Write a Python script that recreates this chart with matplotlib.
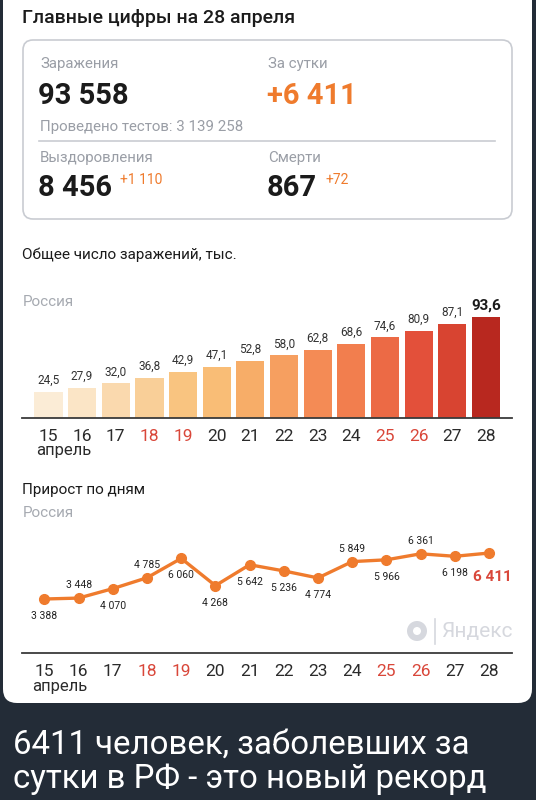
import matplotlib.pyplot as plt
from matplotlib.patches import FancyBboxPatch, Circle

# data
days = ['15', '16', '17', '18', '19', '20', '21', '22', '23', '24', '25', '26', '27', '28']
weekend = ['18', '19', '25', '26']
total_k = [24.5, 27.9, 32.0, 36.8, 42.9, 47.1, 52.8, 58.0, 62.8, 68.6, 74.6, 80.9, 87.1, 93.6]
daily = [3388, 3448, 4070, 4785, 6060, 4268, 5642, 5236, 4774, 5849, 5966, 6361, 6198, 6411]
daily_above = [False, True, False, True, False, False, False, False, False, True, False, True, False, False]
bar_colors = ['#fbecd6', '#fbe5c6', '#fad9ae', '#f9cf98', '#f9c480', '#f9bd76', '#f7ad68',
              '#f69f60', '#f48b55', '#f27e4e', '#ec6a45', '#e3503a', '#d84431', '#b8281f']

DARK = '#232c37'
ORANGE = '#ef7b2d'
RED = '#d9473a'
GRAY = '#9a9ea6'
TXT = '#1b1b1b'
FONT = ['Roboto', 'DejaVu Sans']

W, H = 536, 800
fig = plt.figure(figsize=(W / 100, H / 100), dpi=100, facecolor=DARK)

# background axes in pixel coordinates (y grows downwards)
bg = fig.add_axes([0, 0, 1, 1])
bg.set_xlim(0, W)
bg.set_ylim(H, 0)
bg.axis('off')
bg.set_facecolor(DARK)

card = FancyBboxPatch((3, -20), 529, 723, boxstyle='round,pad=0,rounding_size=14',
                      fc='white', ec='none')
bg.add_patch(card)
inner = FancyBboxPatch((23, 40), 489, 179, boxstyle='round,pad=0,rounding_size=10',
                       fc='white', ec='#c9ccd2', lw=1.2)
bg.add_patch(inner)
bg.plot([39, 495], [141, 141], color='#c9ccd2', lw=1.2)


def txt(x, y, s, size, color=TXT, weight='normal', ha='left', va='center'):
    bg.text(x, y, s, fontsize=size, color=color, fontweight=weight, ha=ha, va=va, family=FONT)


txt(22, 18, 'Главные цифры на 28 апреля', 14, weight='medium')
txt(40, 64, 'Заражения', 10.8, GRAY)
txt(268, 64, 'За сутки', 10.8, GRAY)
txt(38, 96, '93 558', 21, weight='bold')
txt(267, 96, '+6 411', 21, ORANGE, weight='bold')
txt(40, 127, 'Проведено тестов: 3 139 258', 10.8, GRAY)
txt(40, 158, 'Выздоровления', 10.8, GRAY)
txt(268, 158, 'Смерти', 10.8, GRAY)
txt(38, 188, '8 456', 21, weight='bold')
txt(120, 180, '+1 110', 10, ORANGE)
txt(325, 180, '+72', 10, ORANGE)
txt(267, 188, '867', 21, weight='bold')

txt(22, 255, 'Общее число заражений, тыс.', 11)
txt(23, 302, 'Россия', 11, '#a6aab1')
txt(22, 490, 'Прирост по дням', 11)
txt(23, 513, 'Россия', 11, '#a6aab1')
txt(36, 451, 'апрель', 12, '#2b2b2b')
txt(32, 687, 'апрель', 12, '#2b2b2b')

# Yandex watermark
bg.add_patch(Circle((417, 631), 10, fc='#d6d8de', ec='none'))
bg.add_patch(Circle((417, 631), 4, fc='white', ec='none'))
bg.plot([435, 435], [619, 644], color='#d6d8de', lw=1.2)
bg.text(441, 632, 'Яндекс', fontsize=15, color='#d6d8de', ha='left', va='center', family=FONT)

txt(13, 745, '6411 человек, заболевших за', 23.8, 'white')
txt(13, 779, 'сутки в РФ - это новый рекорд', 23.8, 'white')

x = list(range(len(days)))


def px_axes(left, top, right, bottom):
    return fig.add_axes([left / W, 1 - bottom / H, (right - left) / W, (bottom - top) / H])


def style_days(ax):
    ax.set_xticks(x)
    ax.set_xticklabels(days, fontsize=12.5, family=FONT)
    for lab, d in zip(ax.get_xticklabels(), days):
        lab.set_color(RED if d in weekend else '#2b2b2b')
    ax.tick_params(axis='x', length=0, pad=8)
    ax.set_yticks([])
    for s in ['top', 'right', 'left']:
        ax.spines[s].set_visible(False)
    ax.spines['bottom'].set_color('#3a3a3a')
    ax.spines['bottom'].set_linewidth(1.3)
    ax.patch.set_alpha(0)


# bar chart: cumulative cases
ax1 = px_axes(22, 300, 512, 418)
ax1.bar(x, total_k, width=0.84, color=bar_colors)
ax1.set_xlim((22 - 48.4) / 33.66, (512 - 48.4) / 33.66)
ax1.set_ylim(0, 118 / 1.08)
style_days(ax1)
for i, v in enumerate(total_k):
    s = f'{v:.1f}'.replace('.', ',')
    if i == len(total_k) - 1:
        ax1.annotate(s, (i, v), xytext=(0, 4), textcoords='offset pixels', ha='center',
                     va='bottom', fontsize=11, fontweight='bold', color=TXT, family=FONT)
    else:
        ax1.annotate(s, (i, v), xytext=(0, 5), textcoords='offset pixels', ha='center',
                     va='bottom', fontsize=8.5, color='#333333', family=FONT)

# line chart: daily growth
ax2 = px_axes(22, 530, 512, 653)
ax2.plot(x, daily, color=ORANGE, lw=2.4, marker='o', markersize=7, zorder=3)
ax2.set_xlim((22 - 44.4) / 34.2, (512 - 44.4) / 34.2)
ax2.set_ylim(3388 - 54 / 0.0152, 3388 + 69 / 0.0152)
style_days(ax2)
for i, v in enumerate(daily):
    s = f'{v:,}'.replace(',', ' ')
    if i == len(daily) - 1:
        ax2.annotate(s, (i, v), xytext=(3, -24), textcoords='offset pixels', ha='center',
                     va='center', fontsize=11, fontweight='bold', color=RED, family=FONT)
    elif daily_above[i]:
        ax2.annotate(s, (i, v), xytext=(0, 13), textcoords='offset pixels', ha='center',
                     va='center', fontsize=7.5, color='#222222', family=FONT)
    else:
        ax2.annotate(s, (i, v), xytext=(0, -17), textcoords='offset pixels', ha='center',
                     va='center', fontsize=7.5, color='#222222', family=FONT)

fig.savefig('out.png', dpi=100, facecolor=DARK)
